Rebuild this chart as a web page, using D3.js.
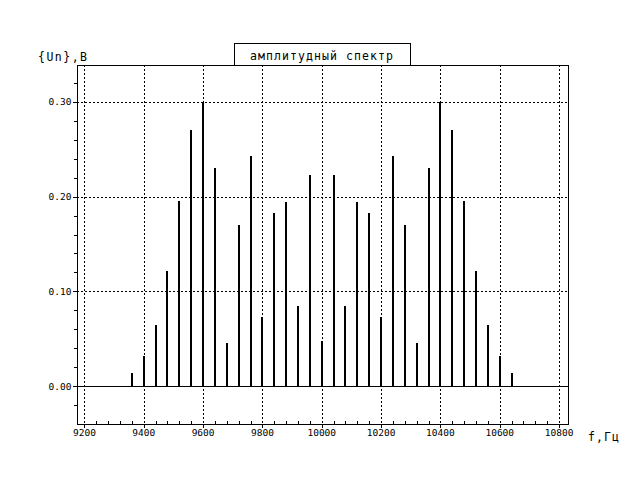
<!DOCTYPE html>
<html>
<head>
<meta charset="utf-8">
<script src="https://cdn.jsdelivr.net/npm/d3@7"></script>
<style>
  html, body { margin: 0; padding: 0; background: #fff; }
  svg { display: block; }
  text { font-family: "DejaVu Sans Mono", "Liberation Mono", monospace; fill: #000; }
</style>
</head>
<body>
<svg id="chart" width="640" height="480"></svg>
<script>
// ---- data ----
const frequencies = [9360, 9400, 9440, 9480, 9520, 9560, 9600, 9640, 9680, 9720, 9760, 9800, 9840, 9880, 9920, 9960,
  10000, 10040, 10080, 10120, 10160, 10200, 10240, 10280, 10320, 10360, 10400, 10440, 10480, 10520, 10560, 10600, 10640];
const amplitudes = [0.014, 0.032, 0.065, 0.121, 0.195, 0.270, 0.300, 0.230, 0.045, 0.170, 0.243, 0.073, 0.183, 0.194, 0.085, 0.223,
  0.048, 0.223, 0.085, 0.194, 0.183, 0.073, 0.243, 0.170, 0.045, 0.230, 0.300, 0.270, 0.195, 0.121, 0.065, 0.032, 0.014];
const xMajorTicks = [9200, 9400, 9600, 9800, 10000, 10200, 10400, 10600, 10800];
const yMajorTicks = [0.00, 0.10, 0.20, 0.30];
const yMinorTicks = [-0.02, 0.02, 0.04, 0.06, 0.08, 0.12, 0.14, 0.16, 0.18, 0.22, 0.24, 0.26, 0.28, 0.32];
const xMinorStep = 40;
const titleText = "амплитудный спектр";
const yLabel = "{Un},B";
const xLabel = "f,Гц";

// ---- layout ----
const L = 77, R = 568, T = 65, B = 424;
const svg = d3.select("#chart");
const x = d3.scaleLinear().domain([9175, 10830]).range([L, R]);
const y = d3.scaleLinear().domain([-0.04, 0.339]).range([B, T]);
const px = v => Math.round(v) + 0.5;

const xMinorTicks = d3.range(9200, 10800 + 1, xMinorStep).filter(v => v % 200 !== 0);

const g = svg.append("g").attr("shape-rendering", "crispEdges");

// grid
g.selectAll("line.vgrid").data(xMajorTicks).enter().append("line")
  .attr("x1", d => px(x(d))).attr("x2", d => px(x(d)))
  .attr("y1", T).attr("y2", B)
  .attr("stroke", "#000").attr("stroke-dasharray", "2,2");
g.selectAll("line.hgrid").data(yMajorTicks.filter(d => d !== 0)).enter().append("line")
  .attr("x1", L).attr("x2", R)
  .attr("y1", d => px(y(d))).attr("y2", d => px(y(d)))
  .attr("stroke", "#000").attr("stroke-dasharray", "2,2");

// zero line
g.append("line").attr("x1", L).attr("x2", R)
  .attr("y1", px(y(0))).attr("y2", px(y(0))).attr("stroke", "#000");

// bars
g.selectAll("rect.bar").data(frequencies).enter().append("rect")
  .attr("x", d => Math.round(x(d)) - 1)
  .attr("width", 2)
  .attr("y", (d, i) => Math.round(y(amplitudes[i])))
  .attr("height", (d, i) => Math.round(y(0)) - Math.round(y(amplitudes[i])) + 1)
  .attr("fill", "#000");

// frame
g.append("rect").attr("x", L + 0.5).attr("y", T + 0.5)
  .attr("width", R - L).attr("height", B - T)
  .attr("fill", "none").attr("stroke", "#000");

// x ticks
g.selectAll("line.xmaj").data(xMajorTicks).enter().append("line")
  .attr("x1", d => px(x(d))).attr("x2", d => px(x(d)))
  .attr("y1", B).attr("y2", B + 4).attr("stroke", "#000");
g.selectAll("line.xmin").data(xMinorTicks).enter().append("line")
  .attr("x1", d => px(x(d))).attr("x2", d => px(x(d)))
  .attr("y1", B).attr("y2", B - 3).attr("stroke", "#000");

// y ticks
g.selectAll("line.ymaj").data(yMajorTicks).enter().append("line")
  .attr("x1", L - 4).attr("x2", L)
  .attr("y1", d => px(y(d))).attr("y2", d => px(y(d))).attr("stroke", "#000");
g.selectAll("line.ymin").data(yMinorTicks).enter().append("line")
  .attr("x1", L - 3).attr("x2", L)
  .attr("y1", d => px(y(d))).attr("y2", d => px(y(d))).attr("stroke", "#000");

// tick labels
svg.selectAll("text.xl").data(xMajorTicks).enter().append("text")
  .attr("x", d => x(d)).attr("y", 435.5)
  .attr("text-anchor", "middle").attr("font-size", 9.5)
  .text(d => d);
svg.selectAll("text.yl").data(yMajorTicks).enter().append("text")
  .attr("x", 71.5).attr("y", d => y(d) + 3.5)
  .attr("text-anchor", "end").attr("font-size", 9.5)
  .text(d => d.toFixed(2));

// title box
svg.append("rect").attr("x", 234.5).attr("y", 43.5).attr("width", 176).attr("height", 22)
  .attr("fill", "#fff").attr("stroke", "#000").attr("shape-rendering", "crispEdges");
svg.append("text").attr("x", 250).attr("y", 59.5)
  .attr("font-size", 11.5)
  .attr("textLength", 143).attr("lengthAdjust", "spacing")
  .text(titleText);

// axis labels
svg.append("text").attr("x", 38).attr("y", 61)
  .attr("font-size", 11.5)
  .attr("textLength", 49).attr("lengthAdjust", "spacing")
  .text(yLabel);
svg.append("text").attr("x", 588).attr("y", 441)
  .attr("font-size", 11.5)
  .attr("textLength", 31).attr("lengthAdjust", "spacing")
  .text(xLabel);
</script>
</body>
</html>
